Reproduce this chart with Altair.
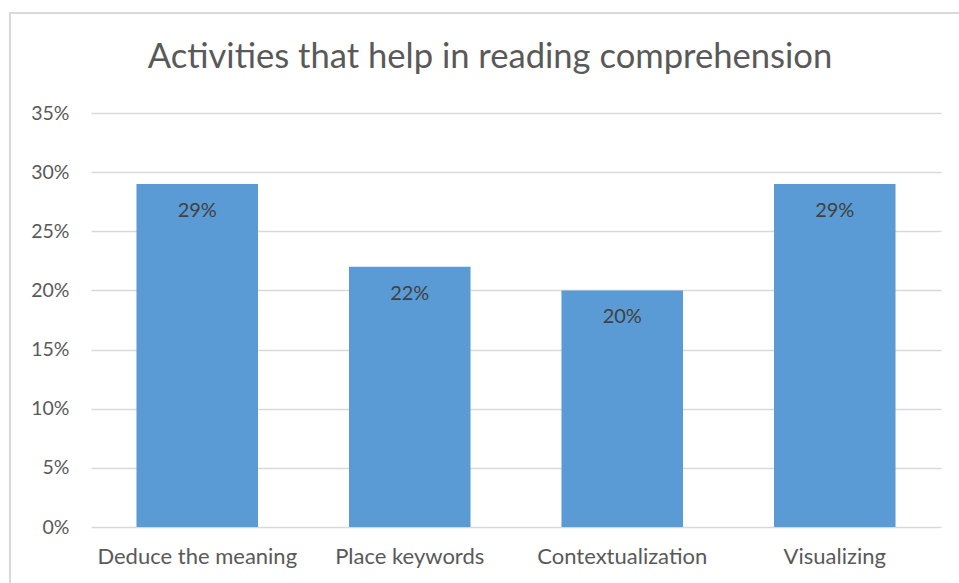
import altair as alt
import pandas as pd

categories = ["Deduce the meaning", "Place keywords", "Contextualization", "Visualizing"]
values = [0.29, 0.22, 0.20, 0.29]
labels = ["29%", "22%", "20%", "29%"]
title_text = ["Activities that help in reading comprehension"]

df = pd.DataFrame({"cat": categories, "val": values, "lab": labels})
tdf = pd.DataFrame({"t": title_text})

FONT = "Lato"
TEXT = "#595959"

x_enc = alt.X("cat:N", sort=categories, title=None,
              scale=alt.Scale(paddingInner=0.428, paddingOuter=0.214),
              axis=alt.Axis(labelAngle=0, labelFontSize=22, labelColor=TEXT, labelFont=FONT,
                            labelLimit=400, ticks=False, domain=False, labelPadding=19,
                            grid=False))
y_enc = alt.Y("val:Q", title=None,
              scale=alt.Scale(domain=[0, 0.35], nice=False),
              axis=alt.Axis(values=[0, 0.05, 0.10, 0.15, 0.20, 0.25, 0.30, 0.35], format=".0%",
                            labelFontSize=19.5, labelColor=TEXT, labelFont=FONT,
                            ticks=False, domain=False, labelPadding=22,
                            gridColor="#D9D9D9", gridWidth=1.3))

bars = alt.Chart(df).mark_bar(color="#5B9BD5").encode(x=x_enc, y=y_enc)

text = alt.Chart(df).mark_text(baseline="middle", dy=27, fontSize=20, font=FONT,
                               color="#404040").encode(
    x=alt.X("cat:N", sort=categories), y="val:Q", text="lab:N")

frame = alt.Chart(df).mark_rect(fill=None, stroke="#D9D9D9", strokeWidth=2, clip=False).encode(
    x=alt.value(-81), x2=alt.value(880), y=alt.value(-100), y2=alt.value(480))

title = alt.Chart(tdf).mark_text(fontSize=34.6, font=FONT, color=TEXT, baseline="middle",
                                 align="center").encode(
    x=alt.value(399), y=alt.value(-55), text="t:N")

chart = alt.layer(frame, bars, text, title).properties(
    width=850, height=414,
    padding={"left": 91, "top": 113, "right": 18, "bottom": 56},
    autosize=alt.AutoSizeParams(type="none"),
    background="white",
).configure_view(stroke=None)

chart.save("out.html", embed_options={"renderer": "svg", "actions": False})
